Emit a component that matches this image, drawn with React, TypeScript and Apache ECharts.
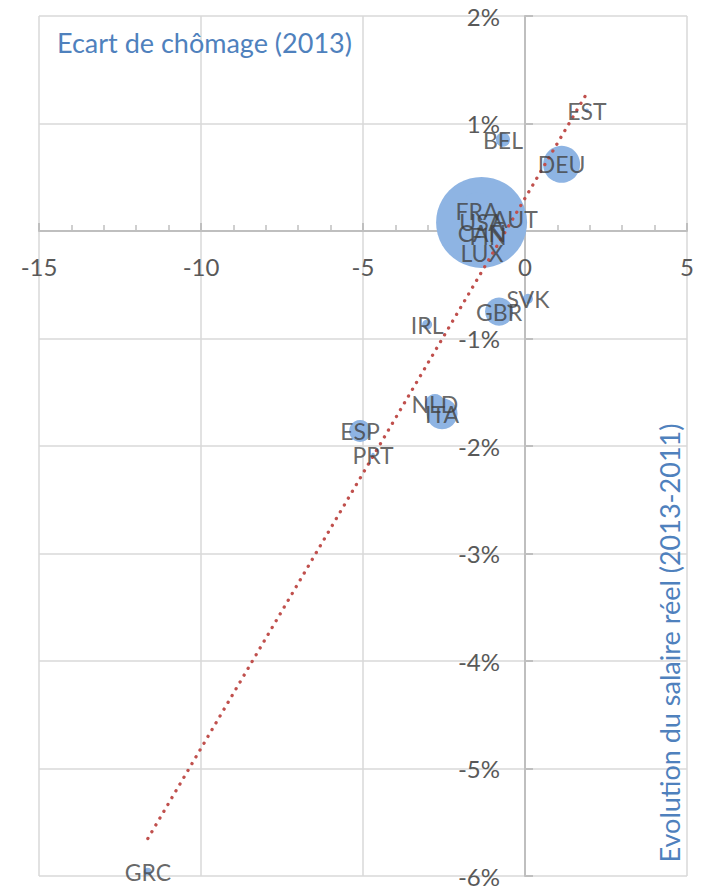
import React, { useEffect, useRef } from "react";
import * as echarts from "echarts";

// Data
const countries = ["USA", "DEU", "FRA", "CAN", "ITA", "GBR", "ESP", "NLD", "BEL", "AUT", "FIN", "IRL", "SVK", "GRC", "PRT", "EST", "LUX"];
const unemploymentGap = [-1.34, 1.13, -1.48, -1.33, -2.56, -0.80, -5.09, -2.78, -0.68, -0.31, -1.14, -3.02, 0.09, -11.64, -4.69, 1.91, -1.33];
const realWageChange = [0.08, 0.62, 0.19, -0.02, -1.70, -0.75, -1.86, -1.61, 0.85, 0.11, -0.05, -0.87, -0.63, -5.96, -2.08, 1.12, -0.20];
const bubbleSize = [100, 16.5, 15.5, 13, 11.6, 9.5, 5.8, 4.8, 2.4, 3, 2, 1.2, 1.2, 0.8, 0.15, 0.2, 0.5];

const xTicks = { min: -15, max: 5, interval: 5 };
const yTicks = { min: -6, max: 2, interval: 1 };

const xTitle = "Ecart de chômage (2013)";
const yTitle = "Evolution du salaire réel (2013-2011)";

const W = 707;
const H = 890;
const GRID = { left: 39, right: 20, top: 16, bottom: 14 };

function regression(xs: number[], ys: number[]) {
  const n = xs.length;
  const mx = xs.reduce((a, b) => a + b, 0) / n;
  const my = ys.reduce((a, b) => a + b, 0) / n;
  let sxy = 0;
  let sxx = 0;
  for (let i = 0; i < n; i++) {
    sxy += (xs[i] - mx) * (ys[i] - my);
    sxx += (xs[i] - mx) * (xs[i] - mx);
  }
  const slope = sxy / sxx;
  return { slope, intercept: my - slope * mx };
}

export default function App() {
  const ref = useRef<HTMLDivElement>(null);

  useEffect(() => {
    document.body.style.margin = "0";
    if (!ref.current) return;
    const chart = echarts.init(ref.current, undefined, { renderer: "svg" });

    const points = countries.map((c, i) => [unemploymentGap[i], realWageChange[i], bubbleSize[i], c]);
    const { slope, intercept } = regression(unemploymentGap, realWageChange);
    const xMin = Math.min(...unemploymentGap);
    const xMax = Math.max(...unemploymentGap);
    const trend = [
      [xMin, slope * xMin + intercept],
      [xMax, slope * xMax + intercept],
    ];

    // place the axes on the zero lines through offsets
    const gw = W - GRID.left - GRID.right;
    const gh = H - GRID.top - GRID.bottom;
    const yAxisOffset = -gw * ((0 - xTicks.min) / (xTicks.max - xTicks.min));
    const xAxisOffset = -gh * ((0 - yTicks.min) / (yTicks.max - yTicks.min));

    const font = "Lato, 'Open Sans', sans-serif";

    chart.setOption({
      animation: false,
      grid: { ...GRID, containLabel: false, outerBoundsMode: "none" },
      xAxis: {
        type: "value",
        position: "bottom",
        offset: xAxisOffset,
        min: xTicks.min,
        max: xTicks.max,
        interval: xTicks.interval,
        axisLine: { onZero: false, lineStyle: { color: "#BFBFBF", width: 2 } },
        axisTick: { show: true, inside: true, length: 8, lineStyle: { color: "#BFBFBF", width: 2 } },
        minorTick: { show: true, splitNumber: 5, length: 6, lineStyle: { color: "#BFBFBF", width: 1.5 } },
        axisLabel: { color: "#595959", fontSize: 24, fontFamily: font, margin: 23 },
        splitLine: { show: true, lineStyle: { color: "#D9D9D9", width: 1.5 } },
      },
      yAxis: {
        type: "value",
        position: "left",
        offset: yAxisOffset,
        min: yTicks.min,
        max: yTicks.max,
        interval: yTicks.interval,
        axisLine: { onZero: false, lineStyle: { color: "#BFBFBF", width: 2 } },
        axisTick: { show: true, inside: true, length: 8, lineStyle: { color: "#BFBFBF", width: 2 } },
        axisLabel: {
          color: "#595959",
          fontSize: 24,
          fontFamily: font,
          margin: 25,
          formatter: (v: number) => `${v}%`,
        },
        splitLine: { show: true, lineStyle: { color: "#D9D9D9", width: 1.5 } },
      },
      graphic: [
        {
          type: "text",
          left: 57,
          top: 29,
          style: { text: xTitle, fill: "#4F81BD", font: `27px ${font}` },
          z: 10,
        },
        {
          type: "text",
          x: 669,
          y: 643,
          rotation: Math.PI / 2,
          style: {
            text: yTitle,
            fill: "#4F81BD",
            font: `27px ${font}`,
            align: "center",
            verticalAlign: "middle",
          },
          z: 10,
        },
      ],
      series: [
        {
          type: "scatter",
          name: "bubbles",
          z: 2,
          data: points,
          symbolSize: (v: any[]) => Math.sqrt(v[2]) * 9.1,
          itemStyle: { color: "#8EB4E3", opacity: 1 },
          label: { show: false },
          emphasis: { disabled: true },
        },
        {
          type: "line",
          name: "trend",
          z: 3,
          data: trend,
          showSymbol: false,
          symbol: "none",
          lineStyle: { color: "#C0504D", width: 3.3, type: [0.1, 7.8], cap: "round" },
          emphasis: { disabled: true },
        },
        {
          type: "scatter",
          name: "labels",
          z: 4,
          data: points,
          symbolSize: 2,
          itemStyle: { color: "rgba(0,0,0,0)" },
          label: {
            show: true,
            position: "inside",
            formatter: (p: any) => p.value[3],
            color: "#404040",
            fontSize: 23,
            fontFamily: font,
          },
          labelLayout: { hideOverlap: false },
          emphasis: { disabled: true },
        },
      ],
    });

    return () => chart.dispose();
  }, []);

  return <div ref={ref} style={{ width: W, height: H }} />;
}
